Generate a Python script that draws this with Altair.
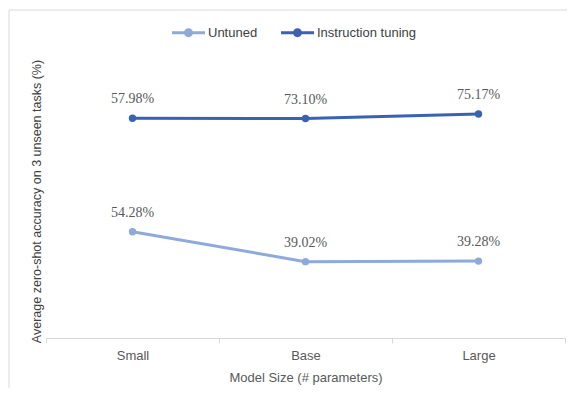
import altair as alt
import pandas as pd

sizes = ["Small", "Base", "Large"]
series = ["Untuned", "Instruction tuning"]
untuned = [54.28, 39.02, 39.28]
instruction = [57.98, 73.10, 75.17]
colors = ["#8eaadb", "#3a62b2"]

rows = []
for si, (name, vals) in enumerate(zip(series, [untuned, instruction])):
    for s, v in zip(sizes, vals):
        rows.append({"size": s, "series": name, "acc": v, "order": si})
df = pd.DataFrame(rows)

legend_path = ("M-1,-0.09H1V0.09H-1Z "
               "M0.27,0A0.27,0.27,0,1,1,-0.27,0A0.27,0.27,0,1,1,0.27,0Z")

base = alt.Chart(df).transform_stack(
    stack="acc", groupby=["size"], as_=["y0", "y1"],
    sort=[alt.SortField("order", "ascending")]
).transform_calculate(label="format(datum.acc, '.2f') + '%'")

x = alt.X("size:N", sort=sizes,
          scale=alt.Scale(paddingInner=0, paddingOuter=0),
          axis=alt.Axis(title="Model Size (# parameters)", tickBand="extent",
                        domainColor="#d9d9d9", tickColor="#d9d9d9", tickSize=5,
                        labelAngle=0, labelFont="Liberation Sans", labelFontSize=13,
                        labelColor="#595959", labelPadding=6,
                        titleFont="Liberation Sans", titleFontSize=13,
                        titleFontWeight="normal", titleColor="#595959", titlePadding=9))
y = alt.Y("y1:Q", scale=alt.Scale(domain=[0, 140]),
          axis=alt.Axis(title="Average zero-shot accuracy on 3 unseen tasks (%)",
                        labels=False, ticks=False, domain=False, grid=False,
                        titleFont="Liberation Sans", titleFontSize=12.5,
                        titleFontWeight="normal", titleColor="#404040", titlePadding=3))

cscale = alt.Scale(domain=series, range=colors)

line_layers = [
    base.transform_filter(alt.datum.series == name).mark_line(strokeWidth=3, color=col).encode(x=x, y=y)
    for name, col in zip(series, colors)
]
points = base.mark_point(filled=True, size=55, opacity=1).encode(
    x=x, y=y,
    color=alt.Color("series:N", scale=cscale, sort=series,
                    legend=alt.Legend(title=None, orient="none", legendX=126, legendY=-48,
                                      direction="horizontal", symbolType=legend_path,
                                      symbolSize=1089, symbolStrokeWidth=0, symbolOpacity=1,
                                      labelFont="Liberation Sans", labelFontSize=13,
                                      labelColor="#404040", labelOffset=3,
                                      columnPadding=23, padding=0)))
texts = base.mark_text(dy=-19, font="Liberation Serif", fontSize=14, color="#595959").encode(
    x=x, y=y, text="label:N")

frame = pd.DataFrame({"k": [0]})
border_left = alt.Chart(frame).mark_rule(color="#d9d9d9", strokeWidth=1).encode(
    x=alt.value(-37), y=alt.value(-54), y2=alt.value(340))
border_top = alt.Chart(frame).mark_rule(color="#d9d9d9", strokeWidth=1).encode(
    x=alt.value(-37), x2=alt.value(540), y=alt.value(-54))

chart = alt.layer(border_left, border_top, *line_layers, points, texts).properties(
    width=519, height=274,
    autosize=alt.AutoSizeParams(type="none"),
    padding={"left": 38, "top": 56, "right": 2, "bottom": 50},
).configure_view(stroke=None)

chart.save("out.html", embed_options={"renderer": "svg", "actions": False})
